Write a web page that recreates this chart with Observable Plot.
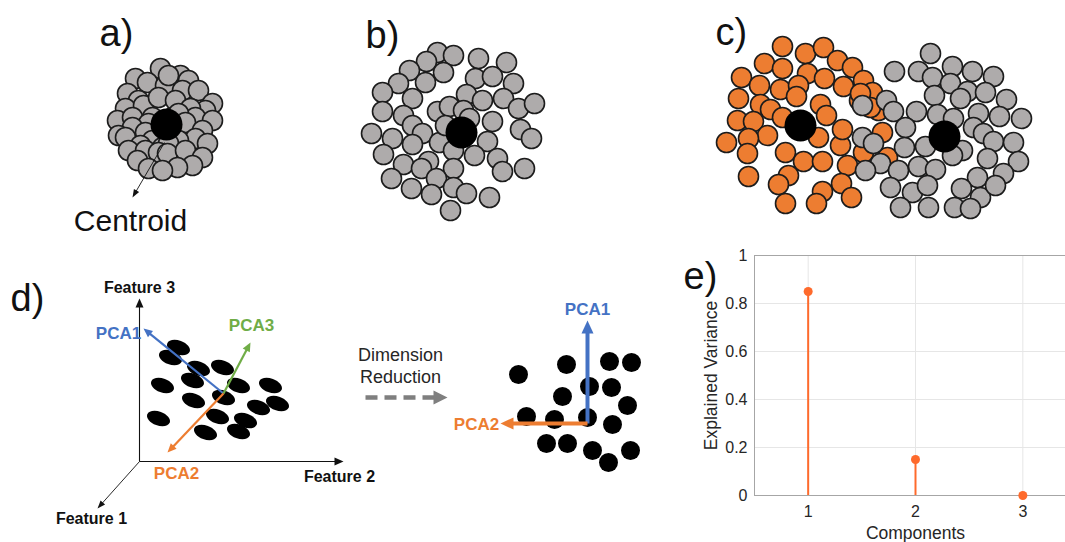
<!DOCTYPE html>
<html>
<head>
<meta charset="utf-8">
<script src="https://cdn.jsdelivr.net/npm/d3@7"></script>
<script src="https://cdn.jsdelivr.net/npm/@observablehq/plot@0.6"></script>
<style>
  html, body { margin: 0; padding: 0; background: #fff; }
  #fig { position: relative; width: 1065px; height: 542px; background: #fff; }
  #fig > svg { position: absolute; }
  .epanel text { font-size: 16px; font-family: 'Liberation Sans', Arial, sans-serif; }
  .epanel g[aria-label="x-axis label"] text, .epanel g[aria-label="y-axis label"] text { font-size: 17.5px; }
</style>
</head>
<body>
<div id="fig"></div>
<script>
// ---------------- DATA ----------------
// a) one compact cluster
const clusterA = [[160,68],[180,75],[135,78],[188,80],[147,82],[165,85],[168,75],[182,90],[198,90],[212,103],[127,93],[138,100],[125,108],[205,110],[143,105],[158,97],[175,100],[190,108],[117,120],[132,117],[152,117],[172,117],[195,117],[212,120],[178,113],[185,122],[148,123],[132,127],[145,132],[118,135],[125,137],[202,130],[195,138],[207,143],[178,140],[152,140],[140,145],[162,147],[168,143],[128,150],[145,150],[158,152],[167,153],[185,150],[202,157],[137,160],[192,165],[177,167],[148,168],[162,170]];
// b) one spread cluster
const clusterB = [[437,52],[453,55],[478,58],[506,62],[426,61],[409,70],[443,72],[475,78],[492,76],[513,83],[398,83],[425,82],[382,92],[412,98],[466,94],[482,100],[503,98],[518,108],[534,103],[437,111],[449,106],[463,110],[469,118],[382,111],[403,115],[492,121],[412,125],[422,133],[371,133],[392,138],[412,144],[439,142],[445,125],[487,141],[520,129],[531,138],[383,154],[403,164],[428,161],[421,168],[453,150],[474,155],[497,158],[502,171],[524,168],[453,168],[391,178],[411,188],[436,178],[431,194],[453,187],[466,193],[489,197],[450,210]];
// c) two clusters
const clusterC1 = [[782,46],[805,53],[823,47],[837,60],[852,67],[764,63],[782,68],[807,73],[824,78],[843,86],[863,80],[741,77],[759,85],[780,89],[798,85],[796,96],[738,98],[760,104],[770,109],[737,120],[753,121],[820,104],[826,115],[782,117],[767,135],[748,138],[726,142],[747,153],[785,152],[803,161],[822,161],[840,145],[842,129],[818,137],[847,165],[748,176],[788,175],[778,184],[841,183],[822,191],[785,203],[816,203],[851,197],[859,100],[872,92],[878,110],[860,93],[870,107],[882,132],[887,157],[863,152]];
const clusterC2 = [[930,53],[894,71],[918,71],[932,77],[952,66],[972,71],[993,76],[950,83],[967,91],[985,92],[934,95],[960,98],[1006,99],[862,105],[886,100],[893,111],[916,111],[937,114],[953,118],[978,113],[999,116],[1021,118],[905,127],[973,127],[983,133],[993,141],[1013,142],[862,137],[873,143],[904,147],[925,146],[962,150],[952,155],[987,158],[1018,161],[880,163],[898,170],[918,166],[935,169],[977,177],[1003,173],[865,170],[890,187],[912,192],[927,185],[961,188],[980,197],[995,185],[900,207],[928,207],[954,207],[970,208]];
const centroids = [[166,124],[461,132],[800,125],[944,136]];
// d) 3-D samples (drawn as tilted ellipses) and reduced 2-D samples
const samples3D = [[178,347],[170,357],[198,368],[222,367],[162,385],[192,380],[238,385],[270,385],[193,400],[223,397],[258,407],[277,403],[158,418],[217,416],[245,420],[205,432],[238,431]];
const samples2D = [[518,374],[566,364],[609,361],[631,362],[589,386],[611,387],[562,396],[627,405],[526,416],[554,419],[587,417],[612,424],[546,443],[567,443],[592,450],[608,462],[630,450]];
const arrows = [
  {name: "Feature 3", kind: "axis", from: [139,461], to: [139,298]},
  {name: "Feature 2", kind: "axis", from: [139,461], to: [343,461]},
  {name: "Feature 1", kind: "thin", from: [139,461], to: [97,508]},
  {name: "Centroid",  kind: "thin", from: [164,142], to: [132,197]},
  {name: "PCA1", kind: "pca", from: [223,393], to: [143,328]},
  {name: "PCA3", kind: "pca", from: [223,393], to: [250,342]},
  {name: "PCA2", kind: "pca", from: [223,393], to: [167,452]},
  {name: "Reduction", kind: "reduce", from: [365,397], to: [447,397]},
  {name: "PCA1", kind: "pcaBold", from: [587,423], to: [587,320]},
  {name: "PCA2", kind: "pcaBold", from: [587,423], to: [500,423]}
];
const panelLetters = [{text:"a)", x:99, y:45},{text:"b)", x:365, y:47},{text:"c)", x:715, y:44},{text:"d)", x:10, y:310},{text:"e)", x:683, y:288}];
const featureLabels = [{text:"Feature 3", x:139, y:292},{text:"Feature 2", x:339, y:481},{text:"Feature 1", x:91, y:523}];
const pcaLabels = [{text:"PCA1", x:118, y:338},{text:"PCA3", x:251, y:330},{text:"PCA2", x:176, y:478},{text:"PCA1", x:587, y:314},{text:"PCA2", x:476, y:429}];
const reductionLabel = [{text:"Dimension", x:400, y:360},{text:"Reduction", x:400, y:382}];
const centroidLabel = [{text:"Centroid", x:130, y:230}];
// e) explained variance
const components = [1, 2, 3];
const explained = [0.85, 0.15, 0.0];
const yTicks = [0, 0.2, 0.4, 0.6, 0.8, 1];

// ---------------- STYLES ----------------
const FONT = "'Liberation Sans', Arial, Helvetica, sans-serif";
const colorOf = {PCA1: "#4472c4", PCA2: "#ed7d31", PCA3: "#70ad47", Reduction: "#7f7f7f"};
const arrowStyle = {
  axis:    {width: 1.1, L: 9,  W: 8},
  thin:    {width: 0.9, L: 8,  W: 6},
  pca:     {width: 2.2, L: 9,  W: 8},
  reduce:  {width: 4.5, L: 14, W: 14, dash: "12,7"},
  pcaBold: {width: 4,   L: 13, W: 12}
};

// custom symbols
const headSymbol = (ratio) => ({
  draw(ctx, size) {
    const L = Math.sqrt(size / Math.PI), W = L * ratio;
    ctx.moveTo(0, 0); ctx.lineTo(W / 2, L); ctx.lineTo(-W / 2, L); ctx.closePath();
  }
});
const ellipseSymbol = {
  draw(ctx, size) {
    const a = Math.sqrt(size / Math.PI), b = a * 0.58, k = 0.5523;
    ctx.moveTo(a, 0);
    ctx.bezierCurveTo(a, b * k, a * k, b, 0, b);
    ctx.bezierCurveTo(-a * k, b, -a, b * k, -a, 0);
    ctx.bezierCurveTo(-a, -b * k, -a * k, -b, 0, -b);
    ctx.bezierCurveTo(a * k, -b, a, -b * k, a, 0);
    ctx.closePath();
  }
};

const arrowRows = arrows.map(a => {
  const st = arrowStyle[a.kind];
  const dx = a.to[0] - a.from[0], dy = a.to[1] - a.from[1], len = Math.hypot(dx, dy);
  const ux = dx / len, uy = dy / len;
  return {
    ...a, x1: a.from[0], y1: a.from[1], x2: a.to[0], y2: a.to[1],
    xs: a.to[0] - ux * st.L * 0.85, ys: a.to[1] - uy * st.L * 0.85,
    angle: Math.atan2(dx, -dy) * 180 / Math.PI,
    color: colorOf[a.name] || "#111"
  };
});

const arrowMarksFor = (kinds) => kinds.flatMap(kind => {
  const st = arrowStyle[kind];
  const rows = arrowRows.filter(d => d.kind === kind);
  return [
    Plot.link(rows, {x1: "x1", y1: "y1", x2: "xs", y2: "ys", stroke: d => d.color, strokeWidth: st.width, strokeDasharray: st.dash}),
    Plot.dot(rows, {x: "x2", y: "y2", r: st.L, symbol: headSymbol(st.W / st.L), rotate: "angle", fill: d => d.color, stroke: "none"})
  ];
});

const circleStyle = {r: 10, stroke: "#1c1c1c", strokeWidth: 1.6};
const xy = {x: d => d[0], y: d => d[1]};

const main = Plot.plot({
  width: 1065, height: 542,
  margin: 0,
  x: {type: "identity"}, y: {type: "identity"},
  style: {background: "transparent", overflow: "visible"},
  marks: [
    Plot.dot(clusterA, {...xy, ...circleStyle, fill: "#aeabab"}),
    Plot.dot(clusterB, {...xy, ...circleStyle, fill: "#aeabab"}),
    Plot.dot(clusterC1, {...xy, ...circleStyle, fill: "#ed7d31"}),
    Plot.dot(clusterC2, {...xy, ...circleStyle, fill: "#aeabab"}),
    Plot.dot(samples3D, {...xy, r: 12, symbol: ellipseSymbol, rotate: 20, fill: "#000", stroke: "none"}),
    ...arrowMarksFor(["axis", "thin", "pca", "reduce"]),
    Plot.dot(centroids, {...xy, r: 16, fill: "#000", stroke: "none"}),
    Plot.dot(samples2D, {...xy, r: 9.5, fill: "#000", stroke: "none"}),
    ...arrowMarksFor(["pcaBold"]),
    Plot.text(panelLetters, {x: "x", y: "y", text: "text", textAnchor: "start", lineAnchor: "bottom", fontSize: 38, fontFamily: FONT, fill: "#111"}),
    Plot.text(featureLabels, {x: "x", y: "y", text: "text", lineAnchor: "bottom", fontSize: 16, fontWeight: "bold", fontFamily: FONT, fill: "#111"}),
    Plot.text(pcaLabels, {x: "x", y: "y", text: "text", lineAnchor: "bottom", fontSize: 17, fontWeight: "bold", fontFamily: FONT, fill: d => colorOf[d.text]}),
    Plot.text(reductionLabel, {x: "x", y: "y", text: "text", lineAnchor: "bottom", fontSize: 18, fontFamily: FONT, fill: "#262626"}),
    Plot.text(centroidLabel, {x: "x", y: "y", text: "text", lineAnchor: "bottom", fontSize: 30, fontFamily: FONT, fill: "#111"})
  ]
});
main.style.left = "0px"; main.style.top = "0px";
document.getElementById("fig").append(main);

// ---------------- panel e ----------------
const variance = components.map((c, i) => ({component: c, value: explained[i]}));
const stemColor = "#fe6a2c";
const frameColor = "#a6a6a6";
const e = Plot.plot({
  className: "epanel",
  width: 385, height: 302,
  marginLeft: 74, marginTop: 15, marginBottom: 47, marginRight: -11,
  style: {background: "transparent", fontFamily: FONT, fontSize: "16px", color: "#262626", overflow: "hidden"},
  x: {domain: [0.5, 3.5]},
  y: {domain: [0, 1]},
  marks: [
    Plot.gridX(components, {stroke: "#e6e6e6", strokeOpacity: 1}),
    Plot.gridY(yTicks, {stroke: "#e6e6e6", strokeOpacity: 1}),
    Plot.ruleY([1], {stroke: frameColor}),
    Plot.ruleY([0], {stroke: frameColor}),
    Plot.ruleX([0.5], {stroke: frameColor}),
    Plot.axisX(components, {tickSize: 0, tickPadding: 10, tickFormat: d => String(d), label: "Components", labelAnchor: "center", labelArrow: "none", labelOffset: 43}),
    Plot.axisY(yTicks, {tickSize: 0, tickPadding: 7, tickFormat: d => String(d), label: "Explained Variance", labelAnchor: "center", labelArrow: "none", labelOffset: 50}),
    Plot.ruleX(variance, {x: "component", y1: 0, y2: "value", stroke: stemColor, strokeWidth: 2}),
    Plot.dot(variance, {x: "component", y: "value", r: 4.5, fill: stemColor, stroke: "none"})
  ]
});
e.style.left = "680px"; e.style.top = "240px";
document.getElementById("fig").append(e);
</script>
</body>
</html>
